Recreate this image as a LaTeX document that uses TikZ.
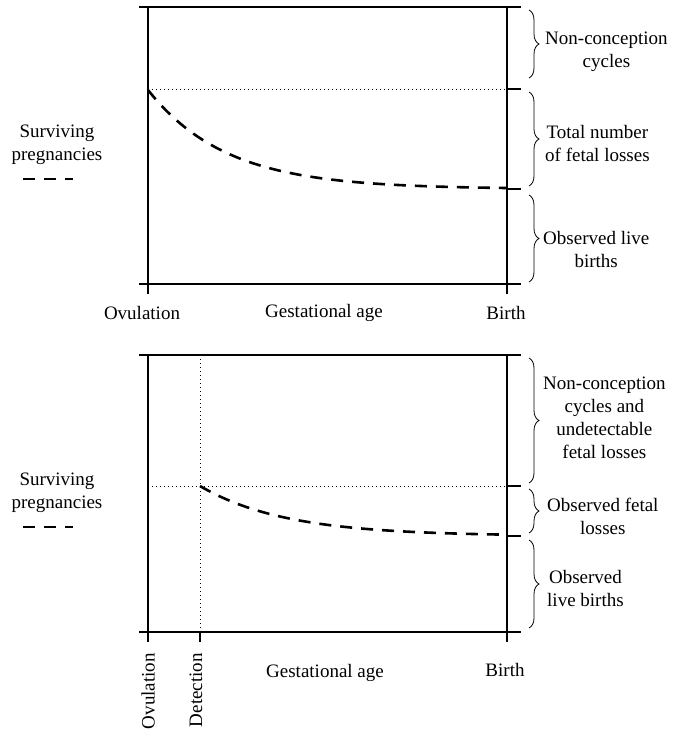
\documentclass[tikz,border=0pt]{standalone}
\usepackage{fontspec}
\setmainfont{Liberation Serif}
\usetikzlibrary{calc,decorations.pathreplacing}

\def\tickr{14}
\newcommand\panelframe[1]{
  \coordinate (#1-nw) at (148,7);
  \coordinate (#1-sw) at (148,284);
  \coordinate (#1-ne) at (507,7);
  \coordinate (#1-se) at (507,284);
  \draw[axis] ($(#1-nw)+(-9,0)$) -- ($(#1-ne)+(\tickr,0)$);
  \draw[axis] ($(#1-sw)+(-9,0)$) -- ($(#1-se)+(\tickr,0)$);
  \draw[axis] (#1-nw) -- (#1-sw) -- ++(0,10);
  \draw[axis] (#1-ne) -- (#1-se) -- ++(0,10);
  \node[lbl] (#1-surv) at (57,145) {Surviving\\pregnancies};
  \coordinate (#1-keyl) at (23,179);
  \coordinate (#1-keyr) at (73,179);
  \draw[survival] (#1-keyl) -- (#1-keyr);
}
\tikzset{
  axis/.style={line width=2.6pt},
  guide/.style={line width=0.9pt,dash pattern=on 1pt off 3pt},
  survival/.style={line width=2.6pt,dash pattern=on 12pt off 9pt},
  bracket/.style={decorate,decoration={brace,amplitude=10pt},line width=0.8pt},
  lbl/.style={font=\fontsize{19}{23}\selectfont,align=center,inner sep=0pt},
}

\begin{document}
\begin{tikzpicture}[x=1pt,y=-1pt]
  \useasboundingbox (0,0) rectangle (675,734);
  % upper panel: losses counted from ovulation
  \begin{scope}
    \coordinate (up-conc) at (148,89);
    \coordinate (up-concr) at (507,89);
    \coordinate (up-live) at (507,189);
    \draw[guide] (up-conc) -- (up-concr);
    \panelframe{up}
    \draw[axis] (up-concr) -- ++(\tickr,0);
    \draw[axis] (up-live) -- ++(\tickr,0);
    \draw[survival] plot[domain=148:507,samples=80] (\x,{189-99*exp(-(\x-148)/78)});
    \node[lbl] (up-ovu) at (142,313) {Ovulation};
    \node[lbl] (up-age) at (324,313) {Gestational age};
    \node[lbl] (up-birth) at (506,313) {Birth};
    \draw[bracket] (529,10) -- (529,78);
    \draw[bracket] (529,92) -- (529,186);
    \draw[bracket] (529,195) -- (529,282);
    \node[lbl,anchor=west] (up-nonc) at (545,52) {Non-conception\\cycles};
    \node[lbl,anchor=west] (up-loss) at (545,143) {Total number\\of fetal losses};
    \node[lbl,anchor=west] (up-births) at (543,249) {Observed live\\births};
  \end{scope}
  % lower panel: losses counted from detection
  \begin{scope}[shift={(0,348)}]
    \coordinate (lo-det) at (200,7);
    \coordinate (lo-dets) at (200,284);
    \coordinate (lo-conc) at (148,138);
    \coordinate (lo-concr) at (507,138);
    \coordinate (lo-live) at (507,188);
    \draw[guide] (lo-conc) -- (lo-concr);
    \draw[guide] (lo-det) -- (lo-dets);
    \panelframe{lo}
    \draw[axis] (lo-dets) -- ++(0,10);
    \draw[axis] (lo-concr) -- ++(\tickr,0);
    \draw[axis] (lo-live) -- ++(\tickr,0);
    \draw[survival] plot[domain=200:507,samples=80] (\x,{188-50*exp(-(\x-200)/85)});
    \node[lbl,rotate=90,anchor=east] (lo-ovu) at (148,305) {Ovulation};
    \node[lbl,rotate=90,anchor=east] (lo-detl) at (196,305) {Detection};
    \node[lbl] (lo-age) at (325,325) {Gestational age};
    \node[lbl] (lo-birth) at (505,322) {Birth};
    \draw[bracket] (529,10) -- (529,135);
    \draw[bracket] (529,141) -- (529,185);
    \draw[bracket] (529,192) -- (529,280);
    \node[lbl,anchor=west] (lo-nonc) at (543,70) {Non-conception\\cycles and\\undetectable\\fetal losses};
    \node[lbl,anchor=west] (lo-loss) at (547,168) {Observed fetal\\losses};
    \node[lbl,anchor=west] (lo-births) at (547,240) {Observed\\live births};
  \end{scope}
\end{tikzpicture}
\end{document}
